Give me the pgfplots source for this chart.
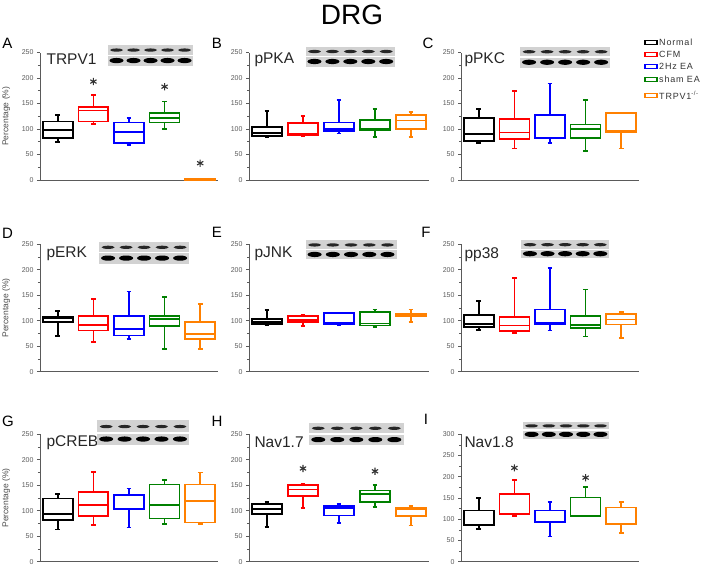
\documentclass[border=0pt]{standalone}
\usepackage{fontspec}
\setmainfont{Liberation Sans}
\usepackage{pgfplots}
\pgfplotsset{compat=1.18}
\usepgfplotslibrary{statistics}
\usetikzlibrary{calc}
\definecolor{cRed}{RGB}{255,0,0}
\definecolor{cBlue}{RGB}{0,0,255}
\definecolor{cGreen}{RGB}{0,128,0}
\definecolor{cOrange}{RGB}{255,128,0}
\definecolor{axgray}{RGB}{90,90,90}

\newcommand{\bx}[7]{\addplot[draw=#1, line width=1.7pt, solid, boxplot prepared={draw direction=y, draw position=#2, lower whisker=#3, lower quartile=#4, median=#5, upper quartile=#6, upper whisker=#7, box extend=0.84, whisker extend=0.13}] coordinates {};}

\newcommand{\stars}[1]{\addplot[only marks, mark=asterisk, mark size=3.6pt, black!80, line width=1.1pt] coordinates {#1};}

\pgfplotsset{panel/.style={scale only axis, height=127.5pt, xmin=0.5, xmax=5.5, ymin=0, ymax=250,
  ytick={0,50,...,250}, minor y tick num=1, xtick=\empty,
  axis x line*=bottom, axis y line*=left,
  axis line style={-, axgray, line width=0.9pt},
  tick style={axgray, line width=0.7pt}, major tick length=3pt, minor tick length=2pt, tick align=outside,
  yticklabel style={font=\fontsize{7}{7}\selectfont, text=axgray},
  /pgf/number format/assume math mode=true, clip=false},
  ylab/.style={ylabel={Percentage (\%)}, ylabel style={at={(rel axis cs:-0.19,0.5)}, anchor=center, font=\fontsize{8.5}{8.5}\selectfont, text=black!70}}}

\newcommand{\lblfont}{\fontsize{15.5}{15.5}\selectfont}
\newcommand{\letfont}{\fontsize{15}{15}\selectfont}

% blot: axis name, x1 rel, x2 rel, top offset, bottom offset
\newcommand{\blot}[5]{%
  \coordinate (p1) at ($(#1.north west)!#2!(#1.north east)+(0,#4pt)$);
  \coordinate (p2) at ($(#1.north west)!#3!(#1.north east)+(0,#5pt)$);
  \coordinate (pm) at ($(p1)!0.5!(p2)$);
  \coordinate (uc) at ($(p1)!0.25!(p2)$);
  \coordinate (lc) at ($(p1)!0.75!(p2)$);
  \fill[gray!35] (p1) rectangle ([yshift=0.7pt]pm -| p2);
  \fill[gray!35] ([yshift=-0.7pt]p1 |- pm) rectangle (p2);
  \foreach \i in {0,...,4}{
    \coordinate (lx) at ($(p1)!{(\i+0.5)/5}!(p2)$);
    \fill[black!85] (lx |- uc) ellipse [x radius=6.5pt, y radius=1.6pt];
    \fill[black] (lx |- lc) ellipse [x radius=7pt, y radius=2.6pt];
  }
}

\newcommand{\legentry}[3]{%
  \draw[#1, line width=1.4pt] (645pt,{-#3pt+2pt}) rectangle (657pt,{-#3pt-2pt});
  \node[anchor=west, font=\fontsize{9}{9}\selectfont\addfontfeatures{LetterSpace=9}, text=black!80, inner sep=1pt] at (658pt,-#3pt) {#2};
}

\begin{document}
\begin{tikzpicture}
\useasboundingbox (0,0) rectangle (702pt,-565pt);
\node[font=\fontsize{28}{28}\selectfont] at (352pt,-15pt) {DRG};

% ---------- A ----------
\begin{axis}[panel, ylab, name=A, width=178pt, at={(40pt,-180pt)}, anchor=south west]
\bx{black}{1}{75}{83}{98}{114.5}{127.6}
\bx{cRed}{2}{110}{114.5}{136}{143}{167}
\bx{cBlue}{3}{68}{73}{94}{112.6}{121}
\bx{cGreen}{4}{99.5}{112.6}{122}{132}{154}
\bx{cOrange}{5}{0}{0.5}{1}{1.5}{2}
\stars{(2,193) (4,183) (5,33)}
\end{axis}
% ---------- B ----------
\begin{axis}[panel, name=B, width=180pt, at={(249pt,-180pt)}, anchor=south west]
\bx{black}{1}{84}{86}{92}{104}{135.5}
\bx{cRed}{2}{86}{87.7}{90}{112}{125.7}
\bx{cBlue}{3}{91}{95.6}{99.5}{112.6}{157}
\bx{cGreen}{4}{84.4}{97}{100}{117}{138.8}
\bx{cOrange}{5}{84}{99.5}{116.5}{127}{134}
\end{axis}
% ---------- C ----------
\begin{axis}[panel, name=C, width=178pt, at={(461pt,-180pt)}, anchor=south west]
\bx{black}{1}{73}{76.6}{89.7}{122}{138.8}
\bx{cRed}{2}{61.5}{80}{93}{119}{175}
\bx{cBlue}{3}{72.6}{82.5}{83}{127.6}{189}
\bx{cGreen}{4}{57}{83}{99.5}{109}{157}
\bx{cOrange}{5}{61.5}{93.6}{96}{131}{131}
\end{axis}
% ---------- D ----------
\begin{axis}[panel, ylab, name=D, width=178pt, at={(40pt,-371.7pt)}, anchor=south west]
\bx{black}{1}{70}{97}{105.7}{108.4}{119.4}
\bx{cRed}{2}{58}{81}{92}{109}{143}
\bx{cBlue}{3}{64.6}{71}{84}{109}{157}
\bx{cGreen}{4}{44.4}{89}{103.8}{109}{146}
\bx{cOrange}{5}{44.4}{64.6}{74.4}{97}{133}
\end{axis}
% ---------- E ----------
\begin{axis}[panel, name=E, width=180pt, at={(249pt,-371.7pt)}, anchor=south west]
\bx{black}{1}{90.7}{94}{98}{103}{120.7}
\bx{cRed}{2}{89.4}{98}{101}{109.6}{112}
\bx{cBlue}{3}{91.4}{94}{96}{115}{115}
\bx{cGreen}{4}{88}{90.7}{94.6}{117.5}{122}
\bx{cOrange}{5}{98}{109.6}{111.6}{114}{122}
\end{axis}
% ---------- F ----------
\begin{axis}[panel, name=F, width=178pt, at={(461pt,-371.7pt)}, anchor=south west]
\bx{black}{1}{81.6}{88}{94}{111}{139}
\bx{cRed}{2}{75.7}{79.6}{90.7}{107}{184}
\bx{cBlue}{3}{81}{94}{95}{122}{203.6}
\bx{cGreen}{4}{69}{86}{92}{109}{161}
\bx{cOrange}{5}{66}{92.7}{102.5}{113.6}{117}
\end{axis}
% ---------- G ----------
\begin{axis}[panel, ylab, name=G, width=178pt, at={(40pt,-561.8pt)}, anchor=south west]
\bx{black}{1}{63.3}{81.5}{94}{124}{132.4}
\bx{cRed}{2}{71.8}{89.4}{112}{137}{176}
\bx{cBlue}{3}{67}{102.5}{103}{130.5}{143.6}
\bx{cGreen}{4}{74.4}{85}{111}{151.4}{160}
\bx{cOrange}{5}{74.4}{77}{118.8}{151.4}{175}
\end{axis}
% ---------- H ----------
\begin{axis}[panel, name=H, width=180pt, at={(249pt,-561.8pt)}, anchor=south west]
\bx{black}{1}{68}{94}{104}{114}{117.5}
\bx{cRed}{2}{105.7}{128.6}{142}{150}{153}
\bx{cBlue}{3}{75.7}{90.7}{106}{110}{114}
\bx{cGreen}{4}{107}{117}{132.5}{140}{150}
\bx{cOrange}{5}{71}{89.4}{104}{106}{109.7}
\stars{(2,183) (4,177.5)}
\end{axis}
% ---------- I ----------
\begin{axis}[panel, name=I, width=178pt, ymax=300, ytick={0,50,...,300}, at={(461pt,-561.8pt)}, anchor=south west]
\bx{black}{1}{77.6}{85.3}{86}{121}{150.5}
\bx{cRed}{2}{107}{112}{113}{159}{192}
\bx{cBlue}{3}{59.5}{93}{95}{121}{141}
\bx{cGreen}{4}{108}{108}{109}{151}{176}
\bx{cOrange}{5}{68}{88.4}{90}{127.7}{141}
\stars{(2,221) (4,198)}
\end{axis}

% panel letters
\node[font=\letfont] at (7.5pt,-43pt) {A};
\node[font=\letfont] at (217pt,-43pt) {B};
\node[font=\letfont] at (428pt,-43pt) {C};
\node[font=\letfont] at (7.5pt,-233pt) {D};
\node[font=\letfont] at (217pt,-232pt) {E};
\node[font=\letfont] at (426pt,-232pt) {F};
\node[font=\letfont] at (8pt,-421pt) {G};
\node[font=\letfont] at (217pt,-421pt) {H};
\node[font=\letfont] at (426pt,-419pt) {I};

% protein labels
\node[anchor=west, font=\lblfont, text=black!85] at ($(A.north west)+(3pt,-7pt)$) {TRPV1};
\node[anchor=west, font=\lblfont, text=black!85] at ($(B.north west)+(2pt,-7pt)$) {pPKA};
\node[anchor=west, font=\lblfont, text=black!85] at ($(C.north west)+(0pt,-7pt)$) {pPKC};
\node[anchor=west, font=\lblfont, text=black!85] at ($(D.north west)+(3pt,-10pt)$) {pERK};
\node[anchor=west, font=\lblfont, text=black!85] at ($(E.north west)+(2pt,-10pt)$) {pJNK};
\node[anchor=west, font=\lblfont, text=black!85] at ($(F.north west)+(0pt,-10pt)$) {pp38};
\node[anchor=west, font=\lblfont, text=black!85] at ($(G.north west)+(3pt,-8pt)$) {pCREB};
\node[anchor=west, font=\lblfont, text=black!85] at ($(H.north west)+(2pt,-8pt)$) {Nav1.7};
\node[anchor=west, font=\lblfont, text=black!85] at ($(I.north west)+(0pt,-8pt)$) {Nav1.8};

% blots
\blot{A}{0.382}{0.86}{7.7}{-13.3}
\blot{B}{0.314}{0.812}{6}{-14}
\blot{C}{0.332}{0.838}{6}{-15}
\blot{D}{0.332}{0.838}{2.3}{-19.3}
\blot{E}{0.314}{0.82}{4}{-15}
\blot{F}{0.338}{0.832}{4}{-14}
\blot{G}{0.32}{0.838}{14}{-11}
\blot{H}{0.332}{0.86}{11.7}{-11}
\blot{I}{0.348}{0.832}{12.7}{-4.3}

% legend
\legentry{black}{Normal}{42.3}
\legentry{cRed}{CFM}{54.7}
\legentry{cBlue}{2Hz EA}{66.7}
\legentry{cGreen}{sham EA}{79.3}
\legentry{cOrange}{TRPV1\textsuperscript{-/-}}{95.3}
\end{tikzpicture}
\end{document}
